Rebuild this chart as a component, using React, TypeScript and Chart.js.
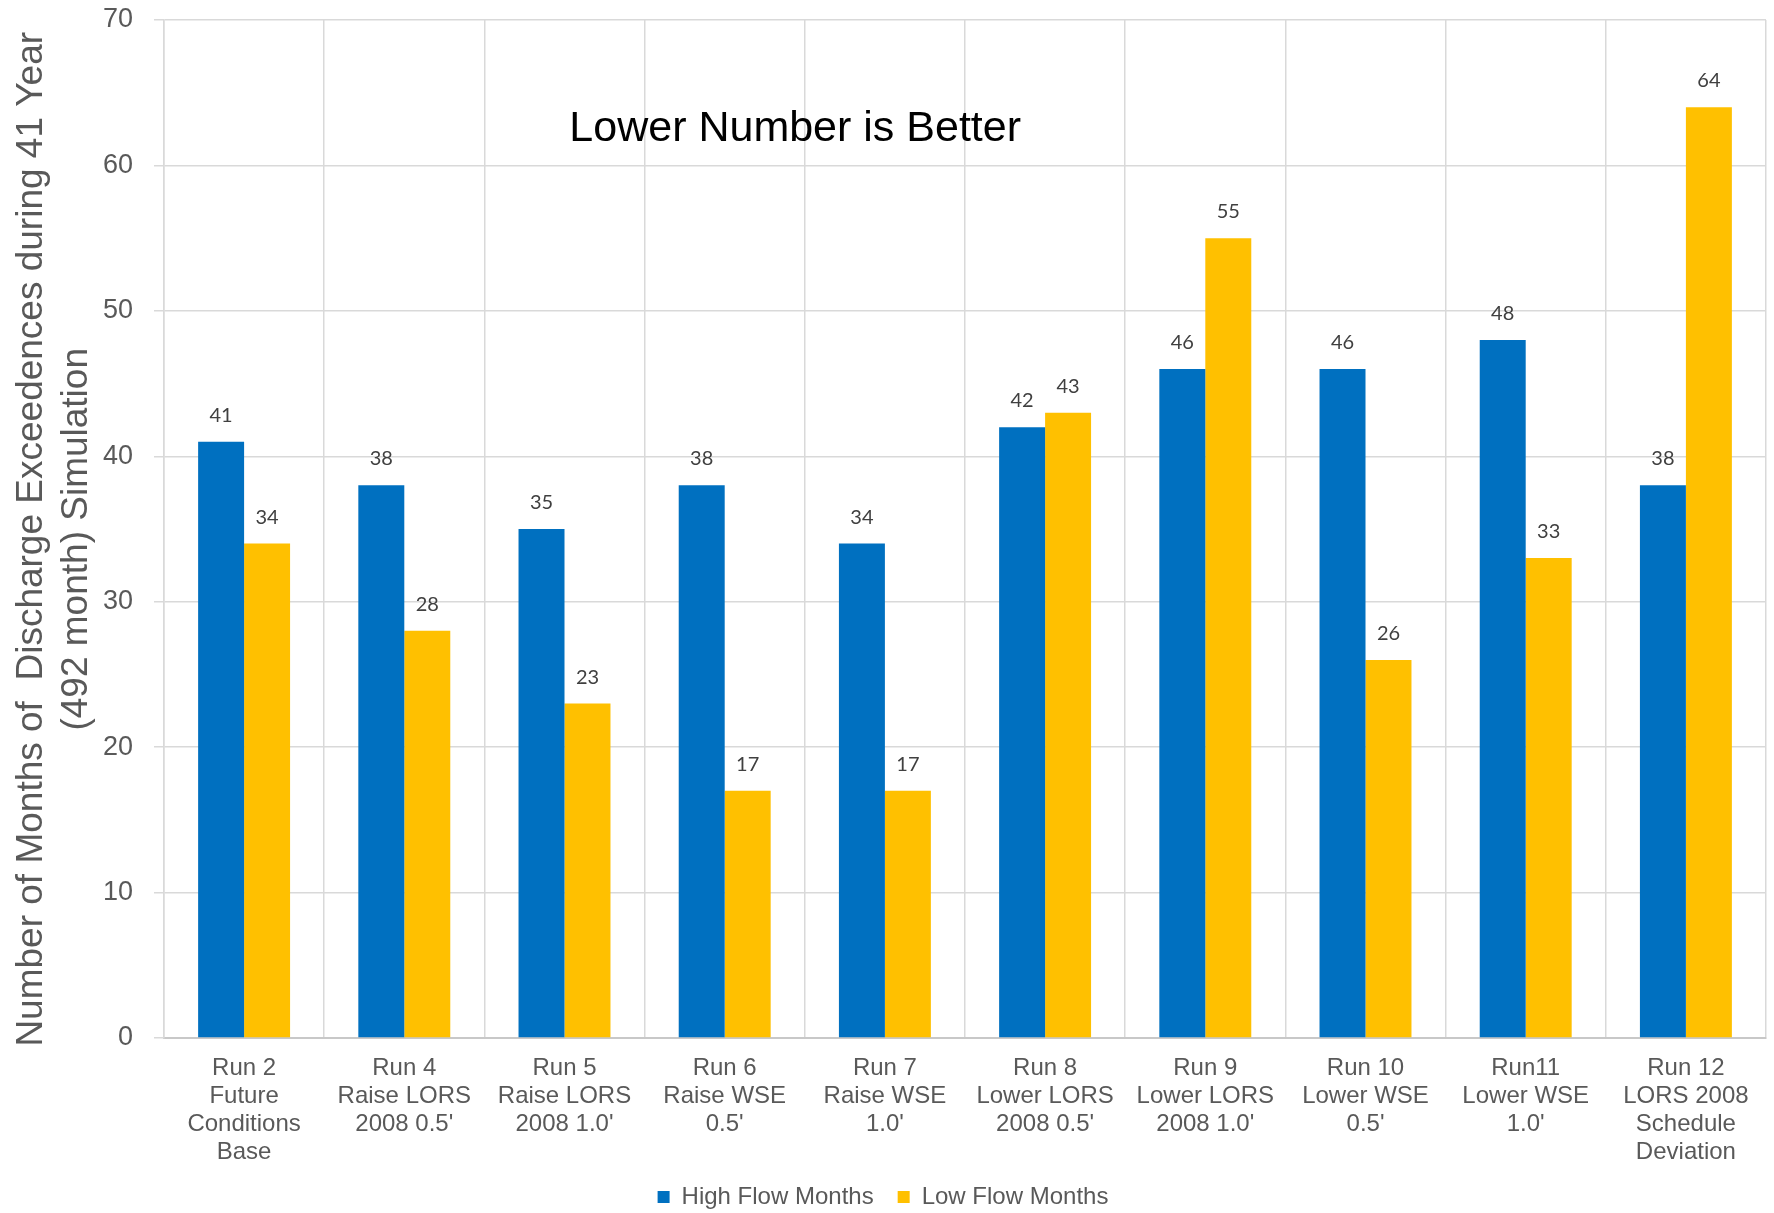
import React, { useEffect, useRef } from "react";
import { Chart, registerables } from "chart.js";

Chart.register(...registerables);

const categories: string[][] = [
  ["Run 2", "Future", "Conditions", "Base"],
  ["Run 4", "Raise LORS", "2008 0.5'"],
  ["Run 5", "Raise LORS", "2008 1.0'"],
  ["Run 6", "Raise WSE", "0.5'"],
  ["Run 7", "Raise WSE", "1.0'"],
  ["Run 8", "Lower LORS", "2008 0.5'"],
  ["Run 9", "Lower LORS", "2008 1.0'"],
  ["Run 10", "Lower WSE", "0.5'"],
  ["Run11", "Lower WSE", "1.0'"],
  ["Run 12", "LORS 2008", "Schedule", "Deviation"],
];

const highFlowMonths: number[] = [41, 38, 35, 38, 34, 42, 46, 46, 48, 38];
const lowFlowMonths: number[] = [34, 28, 23, 17, 17, 43, 55, 26, 33, 64];

const seriesNames: string[] = ["High Flow Months", "Low Flow Months"];
const yTitle: string[] = [
  "Number of Months of  Discharge Exceedences during 41 Year",
  "(492 month) Simulation",
];
const annotationText = "Lower Number is Better";
const yTicks = { min: 0, max: 70, step: 10 };

const W = 1774;
const H = 1213;

const labelPlugin = {
  id: "valueLabels",
  afterDatasetsDraw(chart: any) {
    const ctx = chart.ctx;
    ctx.save();
    ctx.font = "20px Lato";
    ctx.fillStyle = "#404040";
    ctx.textAlign = "center";
    ctx.textBaseline = "alphabetic";
    chart.data.datasets.forEach((ds: any, di: number) => {
      const meta = chart.getDatasetMeta(di);
      meta.data.forEach((bar: any, i: number) => {
        ctx.fillText(String(ds.data[i]), bar.x, bar.y - 20);
      });
    });
    // annotation
    const area = chart.chartArea;
    const yScale = chart.scales.y;
    ctx.font = "43px 'Liberation Sans'";
    ctx.fillStyle = "#000000";
    ctx.textAlign = "center";
    ctx.textBaseline = "alphabetic";
    ctx.fillText(
      annotationText,
      area.left + 0.394 * (area.right - area.left),
      yScale.getPixelForValue(61.7)
    );
    ctx.restore();
  },
};

export default function App() {
  const ref = useRef<HTMLCanvasElement | null>(null);

  useEffect(() => {
    document.body.style.margin = "0";
    document.body.style.overflow = "hidden";
    const canvas = ref.current!;
    const chart = new Chart(canvas, {
      type: "bar",
      data: {
        labels: categories,
        datasets: [
          {
            label: seriesNames[0],
            data: highFlowMonths,
            backgroundColor: "#0070C0",
            borderWidth: 0,
            categoryPercentage: 0.574,
            barPercentage: 1.0,
          },
          {
            label: seriesNames[1],
            data: lowFlowMonths,
            backgroundColor: "#FFC000",
            borderWidth: 0,
            categoryPercentage: 0.574,
            barPercentage: 1.0,
          },
        ],
      },
      options: {
        responsive: false,
        animation: false,
        devicePixelRatio: 1,
        layout: { padding: { top: 0, right: 8, bottom: -6, left: 0 } },
        plugins: {
          legend: {
            position: "bottom",
            labels: {
              boxWidth: 12,
              boxHeight: 12,
              padding: 24,
              color: "#595959",
              font: { family: "'Liberation Sans'", size: 24 },
            },
          },
          tooltip: { enabled: false },
        },
        scales: {
          x: {
            grid: {
              offset: true,
              color: "#d9d9d9",
              lineWidth: 1.5,
              drawTicks: false,
            },
            border: { display: true, color: "#c8c8c8", width: 2 },
            ticks: {
              autoSkip: false,
              maxRotation: 0,
              minRotation: 0,
              padding: 16,
              color: "#595959",
              font: { family: "'Liberation Sans'", size: 24, lineHeight: 28 / 24 },
            },
            afterFit: (scale: any) => {
              scale.height = 123;
            },
          },
          y: {
            min: yTicks.min,
            max: yTicks.max,
            ticks: {
              stepSize: yTicks.step,
              padding: 21,
              color: "#595959",
              font: { family: "'Liberation Sans'", size: 27 },
            },
            grid: {
              color: "#d9d9d9",
              lineWidth: 1.5,
              drawTicks: true,
              tickLength: 10,
            },
            border: { display: true, color: "#d9d9d9", width: 1.5 },
            title: {
              display: true,
              text: yTitle.map((t) => t + "  "),
              color: "#595959",
              font: { family: "'Liberation Sans'", size: 37, lineHeight: 45 / 37 },
              padding: { top: 9.5, bottom: 0 },
            },
            afterFit: (scale: any) => {
              scale.width = 164;
              scale.paddingTop = 20;
              scale.paddingBottom = 0;
            },
          },
        },
      },
      plugins: [labelPlugin],
    });
    return () => chart.destroy();
  }, []);

  return (
    <div style={{ width: W, height: H }}>
      <canvas ref={ref} width={W} height={H} style={{ display: "block", width: W, height: H }} />
    </div>
  );
}
